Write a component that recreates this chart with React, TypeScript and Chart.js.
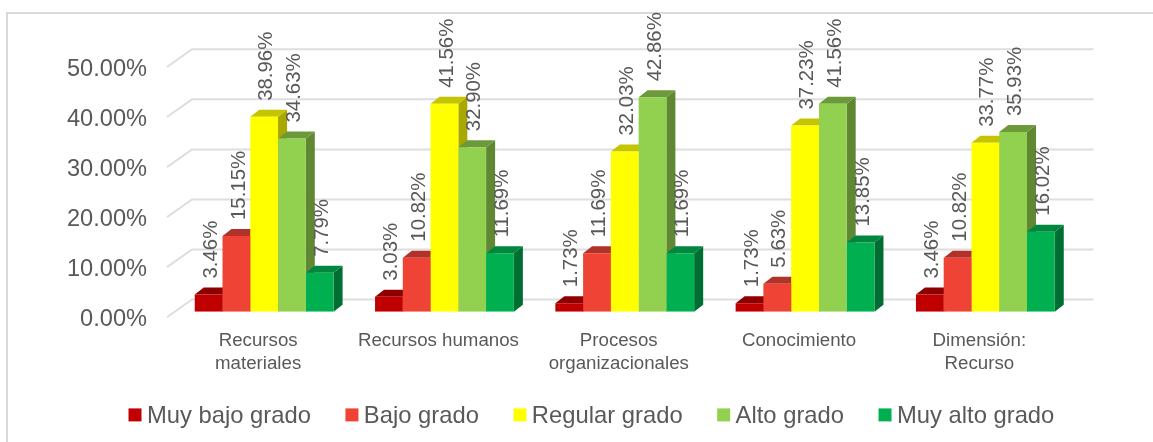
import React, { useEffect, useRef } from "react";
import { Chart, registerables } from "chart.js";

Chart.register(...registerables);

const categories = [["Recursos", "materiales"], "Recursos humanos", ["Procesos", "organizacionales"], "Conocimiento", ["Dimensión:", "Recurso"]];
const muyBajo = [3.46, 3.03, 1.73, 1.73, 3.46];
const bajo = [15.15, 10.82, 11.69, 5.63, 10.82];
const regular = [38.96, 41.56, 32.03, 37.23, 33.77];
const alto = [34.63, 32.9, 42.86, 41.56, 35.93];
const muyAlto = [7.79, 11.69, 11.69, 13.85, 16.02];
const seriesNames = ["Muy bajo grado", "Bajo grado", "Regular grado", "Alto grado", "Muy alto grado"];
const seriesValues = [muyBajo, bajo, regular, alto, muyAlto];
const frontColors = ["#C00000", "#EE4335", "#FFFF00", "#92D050", "#00B050"];
const topColors = ["#8E0000", "#B03228", "#C4C400", "#6C9A3B", "#00863F"];
const sideColors = ["#7A0000", "#962A22", "#A8A800", "#608833", "#006E32"];
const FONT = "'Liberation Sans', Arial, sans-serif";
const TEXT = "#595959";
const DX = 9, DY = 7;
const LEGEND_PAD = 36;

const scene = {
  id: "scene",
  afterLayout(chart: any) {
    const lg = chart.legend;
    const w = lg.width;
    const h = lg.height;
    const left = 130 - LEGEND_PAD;
    const top = 416.5 - 12 - LEGEND_PAD;
    lg.left = left;
    lg.right = left + w;
    lg.top = top;
    lg.bottom = top + h;
  },
  beforeDraw(chart: any) {
    const { ctx } = chart;
    ctx.save();
    ctx.strokeStyle = "#D9D9D9";
    ctx.lineWidth = 2;
    ctx.beginPath();
    ctx.moveTo(7, 442);
    ctx.lineTo(7, 13);
    ctx.lineTo(1153, 13);
    ctx.stroke();
    ctx.restore();
  },
  beforeDatasetsDraw(chart: any) {
    const { ctx, chartArea, scales } = chart;
    const y = scales.y;
    ctx.save();
    ctx.strokeStyle = "#DEDEDE";
    ctx.lineWidth = 2;
    for (const t of y.ticks) {
      const p = y.getPixelForValue(t.value);
      ctx.beginPath();
      ctx.moveTo(chartArea.left - 7, p + 5.4);
      ctx.lineTo(chartArea.left + 18, p - 12.3);
      ctx.lineTo(chartArea.right + 18, p - 12.3);
      ctx.stroke();
    }
    chart.data.datasets.forEach((_: any, d: number) => {
      chart.getDatasetMeta(d).data.forEach((bar: any) => {
        const l = bar.x - bar.width / 2, r = bar.x + bar.width / 2, t = bar.y, b = bar.base;
        ctx.fillStyle = sideColors[d];
        ctx.beginPath();
        ctx.moveTo(r, t); ctx.lineTo(r + DX, t - DY); ctx.lineTo(r + DX, b - DY); ctx.lineTo(r, b);
        ctx.closePath(); ctx.fill();
        ctx.fillStyle = topColors[d];
        ctx.beginPath();
        ctx.moveTo(l, t); ctx.lineTo(l + DX, t - DY); ctx.lineTo(r + DX, t - DY); ctx.lineTo(r, t);
        ctx.closePath(); ctx.fill();
      });
    });
    ctx.restore();
  },
  afterDraw(chart: any) {
    const { ctx } = chart;
    ctx.save();
    ctx.fillStyle = TEXT;
    ctx.font = `20.4px ${FONT}`;
    ctx.textAlign = "left";
    ctx.textBaseline = "middle";
    chart.data.datasets.forEach((ds: any, d: number) => {
      chart.getDatasetMeta(d).data.forEach((bar: any, i: number) => {
        ctx.save();
        ctx.translate(bar.x + 2.5, bar.y - 16);
        ctx.rotate(-Math.PI / 2);
        ctx.fillText(ds.data[i].toFixed(2) + "%", 0, 0);
        ctx.restore();
      });
    });
    chart.legend.legendHitBoxes.forEach((box: any, d: number) => {
      ctx.fillStyle = frontColors[d];
      ctx.fillRect(box.left - 1.5, box.top + box.height / 2 - 8, 13, 13);
    });
    ctx.restore();
  },
};

export default function App() {
  const ref = useRef<HTMLCanvasElement>(null);
  useEffect(() => {
    document.body.style.margin = "0";
    const chart = new Chart(ref.current!, {
      type: "bar",
      data: {
        labels: categories as any,
        datasets: seriesValues.map((data, d) => ({
          label: seriesNames[d],
          data,
          backgroundColor: frontColors[d],
          categoryPercentage: 0.77,
          barPercentage: 1,
        })),
      },
      plugins: [scene],
      options: {
        responsive: false,
        animation: false,
        layout: { padding: { top: 61.6, left: 0, right: 77.5, bottom: -14.6 } },
        scales: {
          x: {
            grid: { display: false },
            border: { display: false },
            afterFit: (s: any) => { s.height = 75; },
            ticks: { color: TEXT, font: { family: FONT, size: 18.7 }, padding: 10, labelOffset: -6, maxRotation: 0, minRotation: 0 },
          },
          y: {
            min: 0,
            max: 50,
            grid: { display: false },
            border: { display: false },
            afterFit: (s: any) => { s.width = 174; },
            ticks: {
              stepSize: 10,
              color: TEXT,
              font: { family: FONT, size: 23.6 },
              padding: 19,
              labelOffset: 7.5,
              callback: (v: any) => Number(v).toFixed(2) + "%",
            },
          },
        },
        plugins: {
          tooltip: { enabled: false },
          legend: {
            position: "bottom",
            align: "start",
            labels: {
              color: TEXT,
              font: { family: FONT, size: 23.8 },
              boxWidth: 5,
              boxHeight: 13,
              padding: LEGEND_PAD,
              generateLabels: (c: any) => c.data.datasets.map((ds: any, i: number) => ({
                text: ds.label, fillStyle: "rgba(0,0,0,0)", strokeStyle: "rgba(0,0,0,0)", lineWidth: 0, datasetIndex: i, fontColor: TEXT,
              })),
            },
          },
        },
      } as any,
    });
    return () => chart.destroy();
  }, []);
  return <canvas ref={ref} width={1153} height={442} style={{ display: "block", filter: "blur(0.4px)" }} />;
}
